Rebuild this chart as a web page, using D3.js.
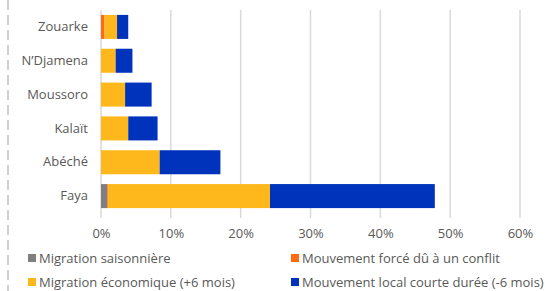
<!DOCTYPE html>
<html><head><meta charset="utf-8">
<script src="https://cdn.jsdelivr.net/npm/d3@7"></script>
<style>body{margin:0;background:#fff;} svg{display:block;font-family:"Open Sans",sans-serif;}</style>
</head><body>
<script>
const categories = ["Zouarke","N’Djamena","Moussoro","Kalaït","Abéché","Faya"];
const seriesNames = ["Migration saisonnière","Mouvement forcé dû à un conflit","Migration économique (+6 mois)","Mouvement local courte durée (-6 mois)"];
const seriesColors = ["#7f7f7f","#ff6a13","#ffb81c","#0033bb"];
const saisonniere = [0, 0, 0, 0, 0, 0.009];
const conflit = [0.005, 0, 0, 0, 0, 0.001];
const economique = [0.018, 0.021, 0.0345, 0.039, 0.084, 0.232];
const localCourte = [0.016, 0.024, 0.038, 0.042, 0.087, 0.236];
const ticks = [0,0.1,0.2,0.3,0.4,0.5,0.6];

const W=546,H=291;
const svg=d3.select("body").append("svg").attr("width",W).attr("height",H);
svg.append("line").attr("x1",8).attr("x2",8).attr("y1",0).attr("y2",H)
  .attr("stroke","#d0d0d0").attr("stroke-width",2).attr("stroke-dasharray","10,5");

const x=d3.scaleLinear().domain([0,0.6]).range([101,520]);
const y=d3.scaleBand().domain(categories).range([10,213]).paddingInner(0.29).paddingOuter(0.145);

svg.append("g").selectAll("line").data(ticks).join("line")
  .attr("x1",d=>x(d)).attr("x2",d=>x(d)).attr("y1",10).attr("y2",218)
  .attr("stroke","#d9d9d9").attr("stroke-width",1.5);

const data=categories.map((c,i)=>({cat:c,s0:saisonniere[i],s1:conflit[i],s2:economique[i],s3:localCourte[i]}));
const stack=d3.stack().keys(["s0","s1","s2","s3"])(data);
svg.append("g").selectAll("g").data(stack).join("g").attr("fill",(d,i)=>seriesColors[i])
  .selectAll("rect").data(d=>d).join("rect")
  .attr("x",d=>x(d[0])).attr("width",d=>Math.max(0,x(d[1])-x(d[0])))
  .attr("y",d=>y(d.data.cat)).attr("height",y.bandwidth());

const xa=svg.append("g").attr("transform","translate(0,226)")
  .call(d3.axisBottom(x).tickValues(ticks).tickFormat(d3.format(".0%")).tickSize(0));
xa.select(".domain").remove();
xa.selectAll("text").attr("fill","#595959").attr("font-size",13).attr("font-family","Open Sans");

const ya=svg.append("g").attr("transform","translate(91,0)")
  .call(d3.axisLeft(y).tickSize(0));
ya.select(".domain").remove();
ya.selectAll("text").attr("fill","#595959").attr("font-size",13).attr("font-family","Open Sans");

const legPos=[[28,258],[291,258],[28,282],[291,282]];
const leg=svg.append("g").selectAll("g").data(seriesNames).join("g")
  .attr("transform",(d,i)=>`translate(${legPos[i][0]},${legPos[i][1]})`);
leg.append("rect").attr("x",0).attr("y",-4).attr("width",8).attr("height",8).attr("fill",(d,i)=>seriesColors[i]);
leg.append("text").attr("x",11).attr("y",0).attr("dy","0.35em").text(d=>d)
  .attr("fill","#595959").attr("font-size",13);
</script>
</body></html>
